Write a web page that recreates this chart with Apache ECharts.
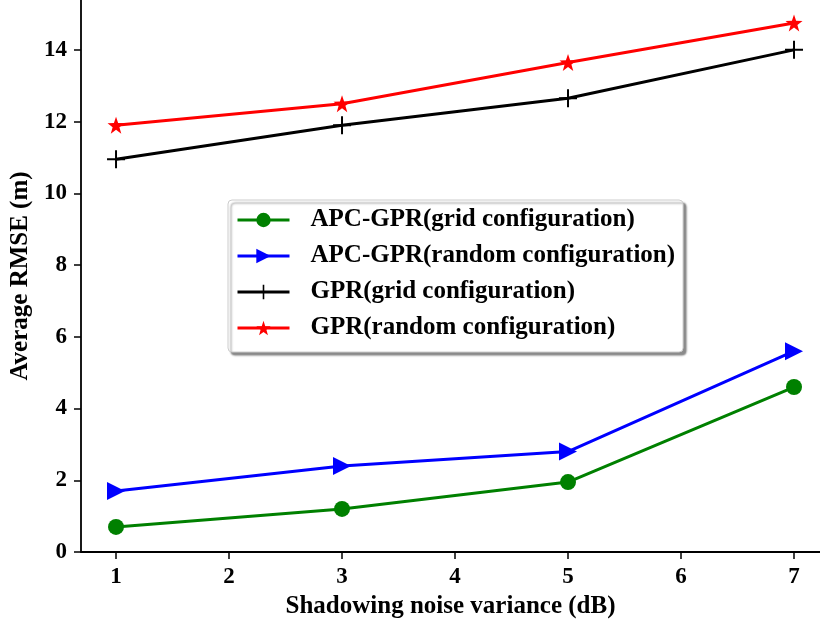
<!DOCTYPE html>
<html><head><meta charset="utf-8">
<script src="https://cdn.jsdelivr.net/npm/echarts@6/dist/echarts.min.js"></script>
<style>html,body{margin:0;padding:0;background:#fff}#c{width:820px;height:623px}</style>
</head><body><div id="c"></div>
<script>
const xValues = [1, 3, 5, 7];
const apcGrid = [0.7, 1.2, 1.95, 4.6];
const apcRandom = [1.7, 2.4, 2.8, 5.6];
const gprGrid = [10.95, 11.9, 12.65, 14.0];
const gprRandom = [11.9, 12.5, 13.65, 14.75];
const xTicks = [1, 2, 3, 4, 5, 6, 7];
const yTicks = [0, 2, 4, 6, 8, 10, 12, 14];
const names = ['APC-GPR(grid configuration)', 'APC-GPR(random configuration)', 'GPR(grid configuration)', 'GPR(random configuration)'];

const FONT = '"Liberation Serif", "Times New Roman", serif';
const pair = arr => xValues.map((x, i) => [x, arr[i]]);
const star = 'path://M0,-10L2.35,-3.24L9.51,-3.09L3.8,1.24L5.88,8.09L0,4L-5.88,8.09L-3.8,1.24L-9.51,-3.09L-2.35,-3.24Z';
const plus = 'path://M-1.1,-10H1.1V-1.1H10V1.1H1.1V10H-1.1V1.1H-10V-1.1H-1.1Z';
const triR = 'path://M0,0L10,5L0,10Z';

function mk(name, data, color, symbol, size) {
  return {
    name, type: 'line', data: pair(data), symbol, symbolSize: size,
    lineStyle: { color, width: 3 }, itemStyle: { color },
    showAllSymbol: true, animation: false
  };
}

const chart = echarts.init(document.getElementById('c'));
chart.setOption({
  animation: false,
  grid: { left: 81, right: 0, top: 0, bottom: 71, containLabel: false, outerBoundsMode: 'none' },
  xAxis: {
    type: 'value', min: 0.69, max: 7.23,
    name: 'Shadowing noise variance (dB)', nameLocation: 'middle', nameGap: 42,
    nameTextStyle: { fontFamily: FONT, fontWeight: 'bold', fontSize: 25, color: '#000' },
    axisLine: { lineStyle: { color: '#000', width: 1.8 } },
    axisTick: { show: true, length: 7, inside: false, customValues: xTicks, lineStyle: { color: '#000', width: 1.5 } },
    axisLabel: { customValues: xTicks, margin: 14, fontFamily: FONT, fontWeight: 'bold', fontSize: 23, color: '#000' },
    splitLine: { show: false }
  },
  yAxis: {
    type: 'value', min: 0, max: 15.39,
    name: 'Average RMSE (m)', nameLocation: 'middle', nameGap: 45, nameRotate: 90,
    nameTextStyle: { fontFamily: FONT, fontWeight: 'bold', fontSize: 25, color: '#000' },
    axisLine: { show: true, lineStyle: { color: '#000', width: 1.8 } },
    axisTick: { show: true, length: 7, inside: false, customValues: yTicks, lineStyle: { color: '#000', width: 1.5 } },
    axisLabel: { customValues: yTicks, margin: 14, fontFamily: FONT, fontWeight: 'bold', fontSize: 23, color: '#000' },
    splitLine: { show: false }
  },
  legend: {
    orient: 'vertical', left: 228, top: 200,
    padding: [7, 8, 11, 8], itemGap: 10, itemWidth: 52, itemHeight: 18,
    lineStyle: { width: 3 },
    backgroundColor: '#fff', borderColor: '#cccccc', borderWidth: 1, borderRadius: 4,
    shadowColor: 'rgba(0,0,0,0.45)', shadowBlur: 2, shadowOffsetX: 3, shadowOffsetY: 3,
    textStyle: { fontFamily: FONT, fontWeight: 'bold', fontSize: 25, color: '#000', lineHeight: 26, padding: [0, 0, 0, 16] },
    data: names
  },
  series: [
    mk(names[0], apcGrid, '#008000', 'circle', 16),
    mk(names[1], apcRandom, '#0000ff', triR, 18),
    mk(names[2], gprGrid, '#000000', plus, 18),
    mk(names[3], gprRandom, '#ff0000', star, 17)
  ]
});
</script></body></html>
